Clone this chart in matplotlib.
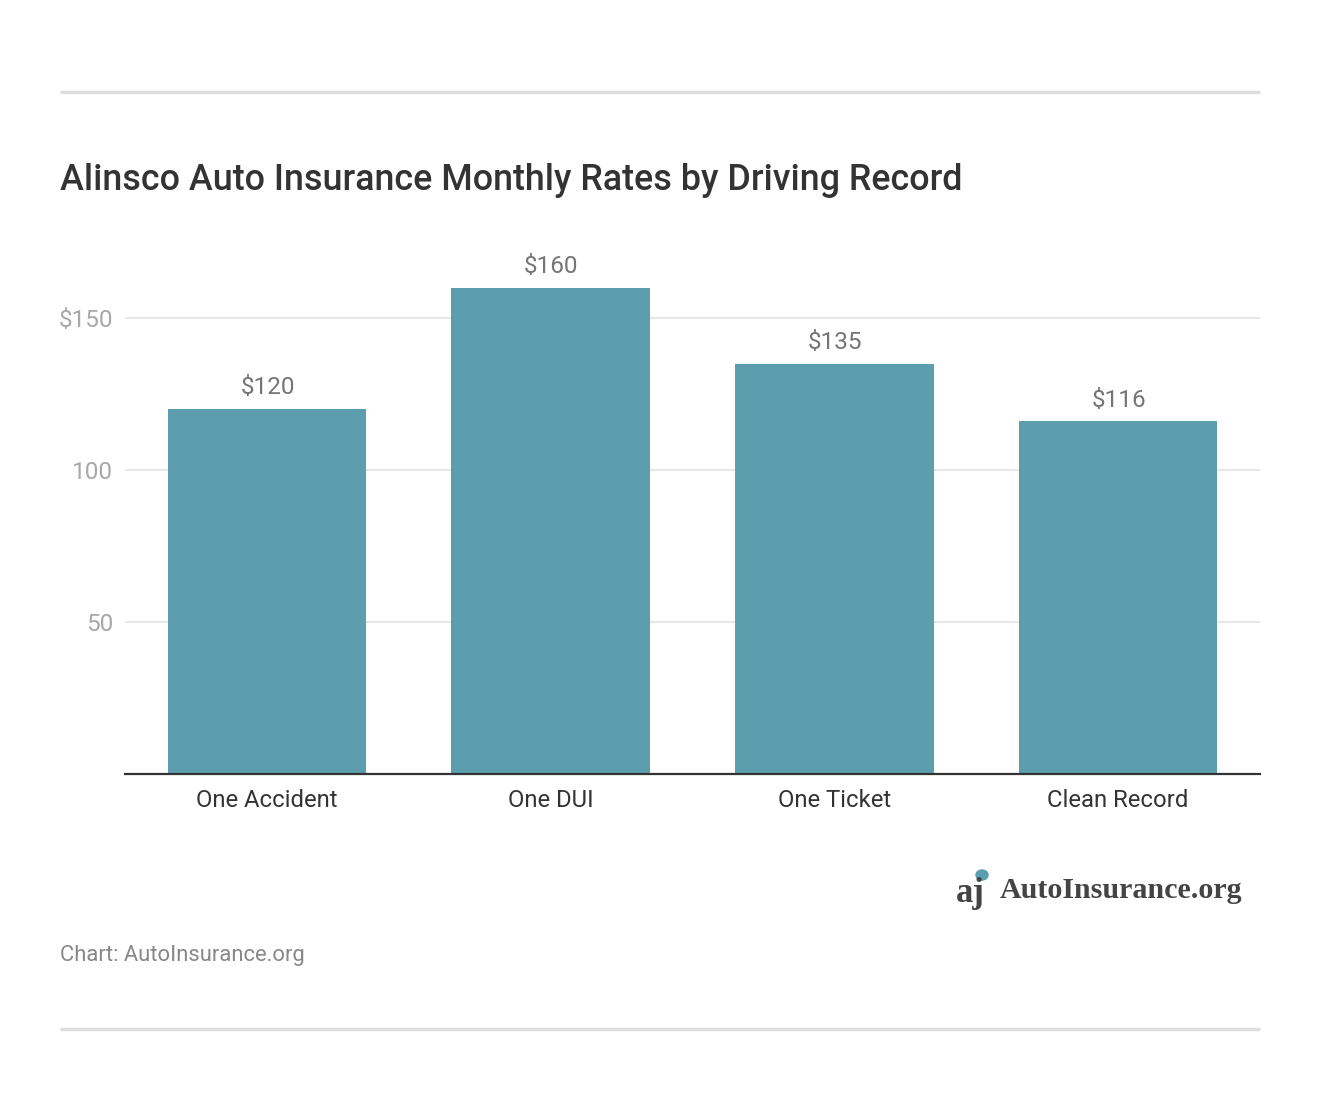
import matplotlib
matplotlib.use("Agg")
import matplotlib.pyplot as plt
from matplotlib.lines import Line2D
from matplotlib.patches import Circle

categories = ["One Accident", "One DUI", "One Ticket", "Clean Record"]
values = [120, 160, 135, 116]
yticks = [50, 100, 150]
yticklabels = ["50", "100", "$150"]
value_labels = ["$120", "$160", "$135", "$116"]

W, H = 1320, 1112
fig = plt.figure(figsize=(W / 100, H / 100), dpi=100)
fig.patch.set_facecolor("white")
plt.rcParams['font.family'] = ['Roboto', 'DejaVu Sans']

def fx(px):
    return px / W

def fy(py):
    return 1 - py / H

# axes: left 125, right 1260, zero at 774, top chosen
ymax = 170
top_px = 774 - ymax * 152 / 50
ax = fig.add_axes([fx(125), fy(774), fx(1260) - fx(125), fy(top_px) - fy(774)])
ax.set_xlim(-0.5, 3.5)
ax.set_ylim(0, ymax)

x = list(range(len(categories)))
bars = ax.bar(x, values, width=0.70, color="#5c9eae", zorder=2)
for xi, v, lab in zip(x, values, value_labels):
    ax.annotate(lab, (xi + 0.003, v), xytext=(0, 7), textcoords="offset points",
                ha="center", va="bottom", fontsize=17.5, color="#757575",
                annotation_clip=False)

ax.set_yticks(yticks)
ax.set_yticklabels(yticklabels)
ax.set_xticks(x)
ax.set_xticklabels(categories)
ax.tick_params(axis="y", length=0, pad=8.6, labelsize=17.5, labelcolor="#a8a8a8")
ax.tick_params(axis="x", length=0, pad=10.5, labelsize=17.2, labelcolor="#333333")
ax.grid(axis="y", color="#e3e3e3", linewidth=1.2, zorder=0)
for s in ["top", "right", "left"]:
    ax.spines[s].set_visible(False)
ax.spines["bottom"].set_color("#333333")
ax.spines["bottom"].set_linewidth(1.6)
ax.spines["bottom"].set_zorder(3)

# horizontal rules
fig.add_artist(Line2D([fx(60), fx(1260)], [fy(92), fy(92)], color="#dddddd",
                      linewidth=2.5, solid_capstyle="butt"))
fig.add_artist(Line2D([fx(60), fx(1260)], [fy(1029), fy(1029)], color="#dddddd",
                      linewidth=2.5, solid_capstyle="butt"))

# title
fig.text(fx(60), fy(180), "Alinsco Auto Insurance Monthly Rates by Driving Record",
         fontsize=25.8, fontweight="medium", color="#333333", ha="left", va="center")

# source
fig.text(fx(60), fy(956), "Chart: AutoInsurance.org", fontsize=15.8, color="#888888",
         ha="left", va="center")

# logo
fig.text(fx(1000), fy(891), "AutoInsurance.org", fontsize=21.6, fontweight="bold",
         family=["Liberation Serif", "DejaVu Serif"], color="#444444", ha="left", va="center")
fig.text(fx(956), fy(893), "aj", fontsize=25, fontweight="bold",
         family=["Liberation Serif", "DejaVu Serif"], color="#444444", ha="left", va="center")
fig.add_artist(Circle((fx(982), fy(875)), 6 / W, color="#5c9eae",
                      transform=fig.transFigure))

fig.savefig("out.png", dpi=100, facecolor="white")
